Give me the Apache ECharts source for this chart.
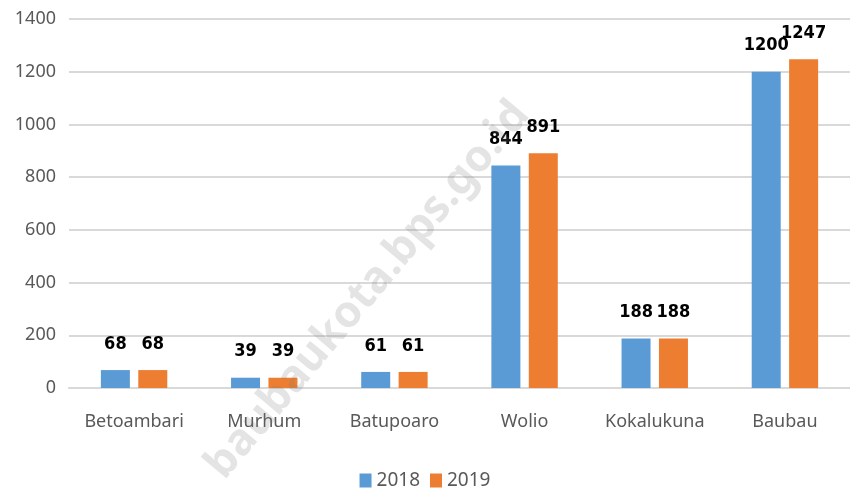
<!DOCTYPE html>
<html>
<head>
<meta charset="utf-8">
<script src="https://cdn.jsdelivr.net/npm/echarts@6/dist/echarts.min.js"></script>
<style>
html, body { margin: 0; padding: 0; background: #fff; }
#chart { width: 850px; height: 489px; }
</style>
</head>
<body>
<div id="chart"></div>
<script>
var kecamatan = ['Betoambari', 'Murhum', 'Batupoaro', 'Wolio', 'Kokalukuna', 'Baubau'];
var data2018 = [68, 39, 61, 844, 188, 1200];
var data2019 = [68, 39, 61, 891, 188, 1247];
var yTicks = { min: 0, max: 1400, interval: 200 };

var chart = echarts.init(document.getElementById('chart'));

// label angka di atas batang
var labelStyle = {
    show: true,
    position: 'top',
    distance: 17,
    color: '#000',
    fontFamily: "'DejaVu Sans Condensed', 'DejaVu Sans'",
    fontWeight: 'bold',
    fontSize: 18
};

var option = {
    animation: false,
    color: ['#5B9BD5', '#ED7D31'],
    grid: {
        left: 69,
        width: 787,
        top: 19,
        bottom: 101
    },
    legend: {
        bottom: -6,
        left: 'center',
        itemWidth: 12,
        itemHeight: 14,
        itemGap: 10,
        icon: 'rect',
        textStyle: { color: '#595959', fontSize: 19, fontFamily: 'Noto Sans' },
        data: ['2018', '2019']
    },
    xAxis: {
        type: 'category',
        data: kecamatan,
        axisTick: { show: false },
        axisLine: { lineStyle: { color: '#d9d9d9', width: 2 } },
        axisLabel: { color: '#595959', fontSize: 18, fontFamily: 'Noto Sans', margin: 25 }
    },
    yAxis: {
        type: 'value',
        min: yTicks.min,
        max: yTicks.max,
        interval: yTicks.interval,
        axisLine: { show: false },
        axisTick: { show: false },
        axisLabel: {
            color: '#595959', fontSize: 18, fontFamily: 'Noto Sans', margin: 13,
            formatter: function (v) { return String(v); }
        },
        splitLine: { lineStyle: { color: '#d9d9d9', width: 2 } }
    },
    graphic: [{
        type: 'text',
        x: 368,
        y: 290,
        rotation: Math.PI * 50 / 180,
        z: 100,
        style: {
            text: 'baubaukota.bps.go.id',
            fill: 'rgba(120,120,120,0.2)',
            fontSize: 44,
            fontWeight: 'bold',
            fontFamily: 'Noto Sans',
            align: 'center',
            verticalAlign: 'middle'
        }
    }],
    series: [
        {
            name: '2018',
            type: 'bar',
            barWidth: 29,
            barGap: '29%',
            label: labelStyle,
            data: data2018
        },
        {
            name: '2019',
            type: 'bar',
            barWidth: 29,
            barGap: '29%',
            label: labelStyle,
            data: data2019
        }
    ]
};

chart.setOption(option);
</script>
</body>
</html>
